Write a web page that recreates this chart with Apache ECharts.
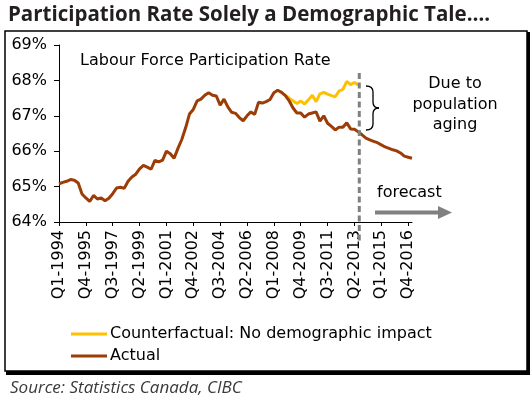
<!DOCTYPE html>
<html>
<head>
<meta charset="utf-8">
<script src="https://cdn.jsdelivr.net/npm/echarts@6/dist/echarts.min.js"></script>
<style>
  html, body { margin: 0; padding: 0; background: #fff; }
  #chart_main { width: 531px; height: 405px; }
</style>
</head>
<body>
<div id="chart_main"></div>
<script>
// 数据
var startYear = 1994;
var quarterCount = 93;   // Q1-1994 ... Q1-2017
var categories = [];
for (var i = 0; i < quarterCount; i++) {
    categories.push('Q' + (i % 4 + 1) + '-' + (startYear + Math.floor(i / 4)));
}

var actual = [
    65.08, 65.12, 65.15, 65.20, 65.18, 65.10, 64.79, 64.68, 64.58, 64.75,
    64.65, 64.68, 64.60, 64.67, 64.80, 64.96, 64.98, 64.95, 65.15, 65.27,
    65.35, 65.50, 65.60, 65.55, 65.49, 65.74, 65.70, 65.75, 66.00, 65.93,
    65.80, 66.08, 66.33, 66.66, 67.05, 67.18, 67.42, 67.47, 67.58, 67.65,
    67.58, 67.56, 67.30, 67.47, 67.25, 67.10, 67.07, 66.95, 66.86, 67.00,
    67.11, 67.04, 67.38, 67.36, 67.40, 67.46, 67.65, 67.72, 67.66, 67.57,
    67.42, 67.22, 67.08, 67.08, 66.96, 67.05, 67.08, 67.11, 66.85, 67.00,
    66.79, 66.70, 66.60, 66.68, 66.68, 66.80, 66.63, 66.62, 66.55, 66.46,
    66.37, 66.32, 66.28, 66.24, 66.18, 66.12, 66.08, 66.04, 66.01, 65.95,
    65.86, 65.83, 65.80
];

// counterfactual starts where it splits from actual (Q4-2008)
var counterStart = 59;
var counterValues = [
    67.57, 67.50, 67.42, 67.35, 67.42, 67.33, 67.45, 67.58, 67.40, 67.62,
    67.66, 67.61, 67.57, 67.54, 67.70, 67.75, 67.97, 67.88, 67.94, 67.87
];
var counterfactual = [];
for (var j = 0; j < quarterCount; j++) {
    var k = j - counterStart;
    counterfactual.push(k >= 0 && k < counterValues.length ? counterValues[k] : null);
}

var forecastStart = 'Q3-2013';
var yTicks = [64, 65, 66, 67, 68, 69];

var myChart = '';
var option = '';
var mainFont = 'DejaVu Sans';

window.onload = function () {
    myChart = echarts.init(document.getElementById('chart_main'), null, { renderer: 'canvas' });

    option = {
        animation: false,
        backgroundColor: '#fff',
        title: {
            text: 'Participation Rate Solely a Demographic Tale….',
            left: 3,
            top: 0,
            textStyle: {
                fontFamily: 'Open Sans',
                fontWeight: 'bold',
                fontSize: 20.5,
                color: '#231f20'
            }
        },
        legend: {
            orient: 'vertical',
            left: 66,
            top: 321,
            itemWidth: 36,
            itemHeight: 3,
            itemGap: 6,
            icon: 'rect',
            textStyle: { fontFamily: mainFont, fontSize: 16, color: '#000', padding: [0, 0, 0, -2] },
            data: ['Counterfactual: No demographic impact', 'Actual']
        },
        grid: {
            left: 59,
            right: 119,
            top: 45,
            bottom: 183,
            containLabel: false
        },
        xAxis: {
            type: 'category',
            boundaryGap: false,
            data: categories,
            axisLine: { lineStyle: { color: '#000', width: 1 } },
            axisTick: { interval: 6, length: 4, lineStyle: { color: '#000' } },
            axisLabel: {
                interval: 6,
                rotate: 90,
                margin: 8,
                fontFamily: mainFont,
                fontSize: 16,
                color: '#000'
            },
            splitLine: { show: false }
        },
        yAxis: {
            type: 'value',
            min: yTicks[0],
            max: yTicks[yTicks.length - 1],
            interval: 1,
            axisLine: { show: true, lineStyle: { color: '#000', width: 1 } },
            axisTick: { show: true, length: 5, lineStyle: { color: '#000' } },
            axisLabel: {
                formatter: '{value}%',
                margin: 12,
                fontFamily: mainFont,
                fontSize: 16,
                color: '#000'
            },
            splitLine: { show: false }
        },
        series: [
            {
                name: 'Counterfactual: No demographic impact',
                type: 'line',
                data: counterfactual,
                showSymbol: false,
                symbol: 'none',
                color: '#ffc000',
                lineStyle: { width: 3, color: '#ffc000' },
                z: 2
            },
            {
                name: 'Actual',
                type: 'line',
                data: actual,
                showSymbol: false,
                symbol: 'none',
                color: '#9c3c06',
                lineStyle: { width: 3, color: '#9c3c06' },
                z: 3
            }
        ],
        graphic: []
    };

    myChart.setOption(option);

    // 预测分隔线 x 位置由坐标轴换算
    var fx = myChart.convertToPixel({ xAxisIndex: 0 }, forecastStart) + 1;
    var braceStyle = { fill: 'none', stroke: '#000', lineWidth: 1.3 };

    var graphics = [
        // 外框 + 阴影
        {
            type: 'rect', z: -10, silent: true,
            shape: { x: 6, y: 32, width: 524, height: 343 },
            style: { fill: '#000' }
        },
        {
            type: 'rect', z: -9, silent: true,
            shape: { x: 5, y: 31, width: 522, height: 340 },
            style: { fill: '#fff', stroke: '#000', lineWidth: 1.5 }
        },
        {
            type: 'text', x: 80, y: 53, z: 5,
            style: { text: 'Labour Force Participation Rate', font: '16px "DejaVu Sans"', fill: '#000' }
        },
        {
            type: 'text', x: 455, y: 74, z: 5,
            style: {
                text: 'Due to\npopulation\naging',
                font: '16px "DejaVu Sans"', fill: '#000',
                align: 'center', lineHeight: 20.5
            }
        },
        // 大括号
        {
            type: 'bezierCurve', z: 5,
            shape: { x1: 366, y1: 86, cpx1: 371, cpy1: 86, cpx2: 373, cpy2: 88, x2: 373, y2: 92 },
            style: braceStyle
        },
        {
            type: 'line', z: 5,
            shape: { x1: 373, y1: 92, x2: 373, y2: 102 },
            style: braceStyle
        },
        {
            type: 'bezierCurve', z: 5,
            shape: { x1: 373, y1: 102, cpx1: 373, cpy1: 106, cpx2: 375, cpy2: 108, x2: 379, y2: 108 },
            style: braceStyle
        },
        {
            type: 'bezierCurve', z: 5,
            shape: { x1: 379, y1: 108, cpx1: 375, cpy1: 108, cpx2: 373, cpy2: 110, x2: 373, y2: 114 },
            style: braceStyle
        },
        {
            type: 'line', z: 5,
            shape: { x1: 373, y1: 114, x2: 373, y2: 124 },
            style: braceStyle
        },
        {
            type: 'bezierCurve', z: 5,
            shape: { x1: 373, y1: 124, cpx1: 373, cpy1: 128, cpx2: 371, cpy2: 130, x2: 366, y2: 130 },
            style: braceStyle
        },
        {
            type: 'text', x: 377, y: 185, z: 5,
            style: { text: 'forecast', font: '16px "DejaVu Sans"', fill: '#000' }
        },
        {
            type: 'line', z: 5,
            shape: { x1: 375, y1: 212.5, x2: 440, y2: 212.5 },
            style: { stroke: '#808080', lineWidth: 4 }
        },
        {
            type: 'polygon', z: 5,
            shape: { points: [[438, 206], [452, 212.5], [438, 219]] },
            style: { fill: '#808080' }
        },
        {
            type: 'line', z: 6,
            shape: { x1: fx, y1: 73, x2: fx, y2: 242 },
            style: { stroke: '#808080', lineWidth: 3, lineDash: [6, 3.5] }
        },
        {
            type: 'text', x: 10, y: 380, z: 5,
            style: {
                text: 'Source: Statistics Canada, CIBC',
                font: 'italic 17px "Open Sans"', fill: '#3a3a3a'
            }
        }
    ];

    myChart.setOption({ graphic: graphics });
};
</script>
</body>
</html>
